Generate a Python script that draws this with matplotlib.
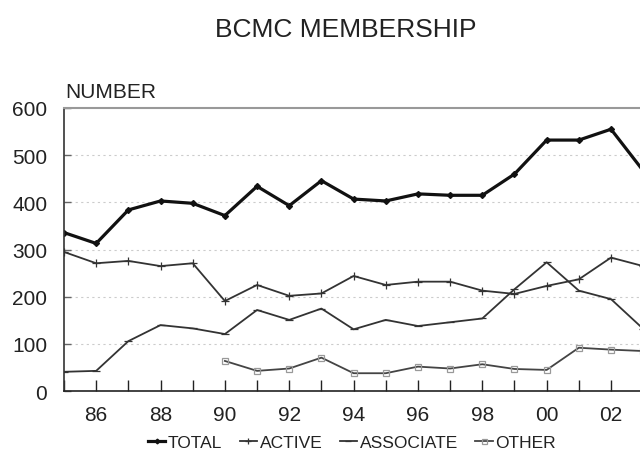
import matplotlib
matplotlib.use("Agg")
import matplotlib.pyplot as plt
from matplotlib.ticker import FixedLocator

plt.rcParams['font.family'] = ['Liberation Sans', 'DejaVu Sans']

years = list(range(1985, 2004))
total = [336, 313, 384, 403, 398, 372, 434, 393, 446, 407, 403, 418, 415, 415, 460, 532, 532, 555, 467]
active = [295, 271, 276, 265, 271, 191, 225, 202, 207, 244, 225, 232, 232, 213, 206, 223, 237, 283, 265]
associate = [41, 43, 106, 140, 133, 121, 172, 151, 175, 131, 151, 138, 146, 154, 216, 273, 213, 195, 132]
other_years = list(range(1990, 2004))
other = [64, 43, 48, 71, 38, 38, 52, 48, 57, 47, 45, 92, 88, 85]

yticks = [0, 100, 200, 300, 400, 500, 600]
xlabel_years = [1986, 1988, 1990, 1992, 1994, 1996, 1998, 2000, 2002]
xlabels = ['86', '88', '90', '92', '94', '96', '98', '00', '02']

fig = plt.figure(figsize=(6.4, 4.56), dpi=100)
ax = fig.add_axes([0.1, 0.14, 0.905, 0.621])

ax.plot(years, total, color='#111111', lw=2.3, marker='D', ms=3, label='TOTAL')
ax.plot(years, active, color='#333333', lw=1.3, marker='+', ms=6, mew=0.9, label='ACTIVE')
ax.plot(years, associate, color='#333333', lw=1.3, marker='_', ms=6, mew=0.9, label='ASSOCIATE')
ax.plot(other_years, other, color='#444444', lw=1.3, marker='s', ms=4.5, mfc='none', mec='#999999', mew=0.9, label='OTHER')

ax.set_xlim(1985, 2003)
ax.set_ylim(0, 600)
ax.set_yticks(yticks)
ax.set_yticklabels([str(v) for v in yticks], fontsize=15, color='#222222')
ax.set_xticks(xlabel_years)
ax.set_xticklabels(xlabels, fontsize=15, color='#222222')
ax.xaxis.set_minor_locator(FixedLocator(years))
ax.tick_params(axis='x', which='both', direction='in', length=8, width=1, color='#222222', pad=10)
ax.tick_params(axis='y', direction='in', length=5, width=1, color='#666666', pad=12)

for v in [100, 200, 300, 400, 500]:
    ax.axhline(v, color='#cccccc', lw=0.8, ls=(0, (2, 3)), zorder=0)

ax.spines['right'].set_visible(False)
ax.spines['top'].set_color('#999999')
ax.spines['top'].set_linewidth(1.5)
ax.spines['left'].set_color('#333333')
ax.spines['left'].set_linewidth(1.2)
ax.spines['bottom'].set_color('#222222')
ax.spines['bottom'].set_linewidth(1.2)

fig.text(0.54, 0.935, 'BCMC MEMBERSHIP', fontsize=19, ha='center', va='center', color='#222222')
fig.text(0.102, 0.798, 'NUMBER', fontsize=15, ha='left', va='center', color='#222222')

leg = fig.legend(loc='center', bbox_to_anchor=(0.55, 0.028), ncol=4, frameon=False,
                 fontsize=12.5, handlelength=1.0, handletextpad=0.15, columnspacing=1.0,
                 markerscale=0.8)
for t in leg.get_texts():
    t.set_color('#222222')

fig.savefig('out.png', dpi=100)
